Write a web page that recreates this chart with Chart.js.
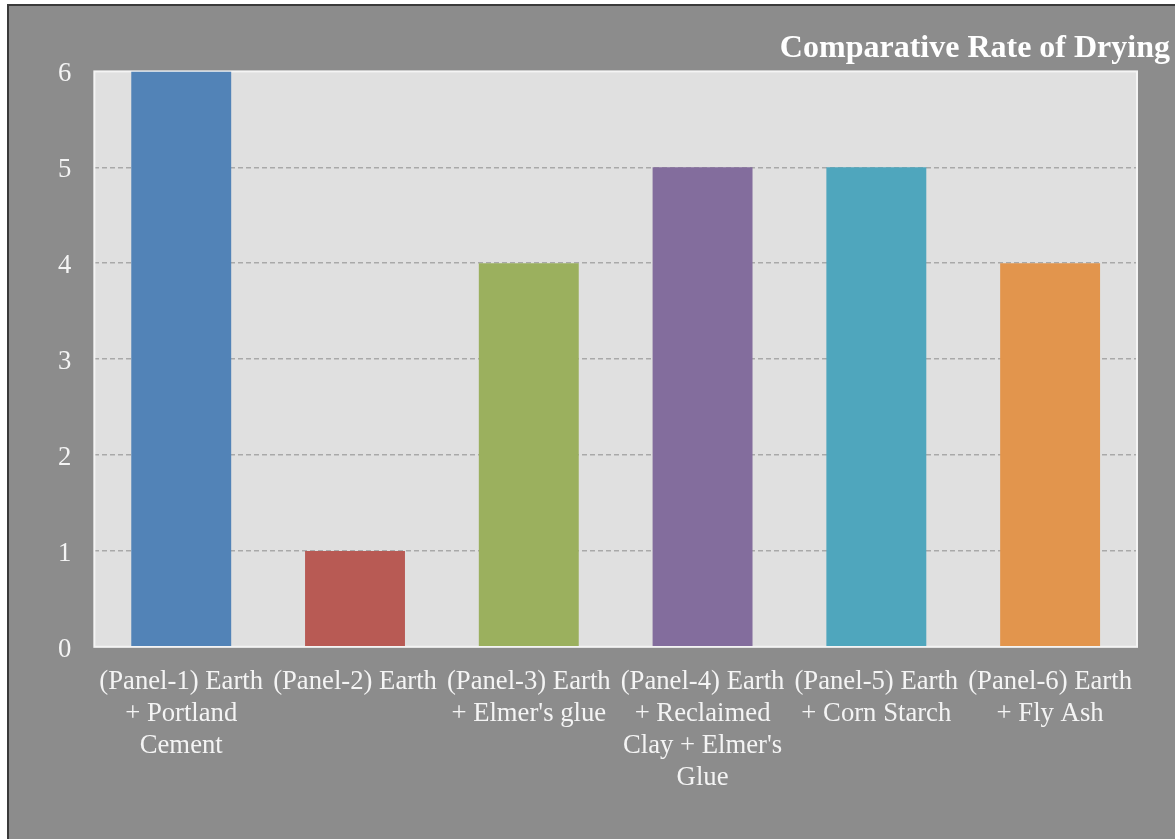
<!DOCTYPE html>
<html lang="en">
<head>
    <meta charset="UTF-8">
    <title>Comparative Rate of Drying</title>
    <style>
        body {
            margin: 0;
            background-color: #ffffff;
        }
        .frame {
            position: absolute;
            left: 7px;
            top: 4px;
            width: 1166px;
            height: 833px;
            border-top: 2px solid #3a3a3a;
            border-left: 2px solid #3a3a3a;
            background-color: #8c8c8c;
            overflow: hidden;
        }
    </style>
</head>
<body>
    <div class="frame">
        <canvas id="chartContainer" width="1166" height="833"></canvas>
    </div>
    <script src="https://cdn.jsdelivr.net/npm/chart.js@4/dist/chart.umd.min.js"></script>
    <script>
        const categories = [
            ["(Panel-1) Earth", "+ Portland", "Cement"],
            ["(Panel-2) Earth"],
            ["(Panel-3) Earth", "+ Elmer's glue"],
            ["(Panel-4) Earth", "+ Reclaimed", "Clay + Elmer's", "Glue"],
            ["(Panel-5) Earth", "+ Corn Starch"],
            ["(Panel-6) Earth", "+ Fly Ash"]
        ];
        const dryingRate = [6, 1, 4, 5, 5, 4];
        const barColors = ["#5283b7", "#b85a54", "#9bb05e", "#836d9d", "#4fa6bd", "#e2954d"];
        const yTicks = [0, 1, 2, 3, 4, 5, 6];

        const serif = "'Liberation Serif', 'Times New Roman', serif";

        // plot area fill + light frame, under the bars
        const plotBg = {
            id: "plotBg",
            beforeDraw(chart) {
                const a = chart.chartArea, c = chart.ctx;
                c.save();
                c.fillStyle = "#e0e0e0";
                c.fillRect(a.left, a.top, a.right - a.left, a.bottom - a.top);
                c.restore();
            },
            beforeDatasetsDraw(chart) {
                const a = chart.chartArea, c = chart.ctx;
                c.save();
                c.strokeStyle = "#f4f4f4";
                c.lineWidth = 2;
                c.strokeRect(a.left, a.top, a.right - a.left, a.bottom - a.top);
                c.restore();
            }
        };

        new Chart(document.getElementById("chartContainer"), {
            type: "bar",
            data: {
                labels: categories,
                datasets: [{
                    data: dryingRate,
                    backgroundColor: barColors,
                    borderWidth: 0,
                    barPercentage: 0.575,
                    categoryPercentage: 1
                }]
            },
            options: {
                responsive: false,
                animation: false,
                layout: { padding: { left: 26, right: 5, top: 0, bottom: 26 } },
                plugins: {
                    legend: { display: false },
                    tooltip: { enabled: false },
                    title: {
                        display: true,
                        text: "Comparative Rate of Drying",
                        align: "end",
                        color: "#ffffff",
                        font: { family: serif, size: 32, weight: "bold", lineHeight: 1.2 },
                        padding: { top: 24, bottom: 3 }
                    }
                },
                scales: {
                    x: {
                        grid: { display: false, drawTicks: false },
                        border: { display: false },
                        ticks: {
                            color: "#f4f4f4",
                            maxRotation: 0,
                            autoSkip: false,
                            padding: 19,
                            font: { family: serif, size: 26.7, lineHeight: 1.2 }
                        }
                    },
                    y: {
                        min: 0,
                        max: 6,
                        afterBuildTicks: s => { s.ticks = yTicks.map(v => ({ value: v })); },
                        grid: {
                            color: c => (c.tick.value === 0 || c.tick.value === 6) ? "rgba(0,0,0,0)" : "#a9a9a9",
                            lineWidth: 1.5,
                            drawTicks: false
                        },
                        border: { display: false, dash: [5, 3] },
                        ticks: {
                            color: "#f4f4f4",
                            padding: 23,
                            labelOffset: 3,
                            font: { family: serif, size: 26.7 }
                        }
                    },
                    yRight: {
                        position: "right",
                        display: true,
                        grid: { display: false, drawTicks: false },
                        border: { display: false },
                        ticks: { display: false },
                        afterFit: s => { s.width = 33; }
                    }
                }
            },
            plugins: [plotBg]
        });
    </script>
</body>
</html>
